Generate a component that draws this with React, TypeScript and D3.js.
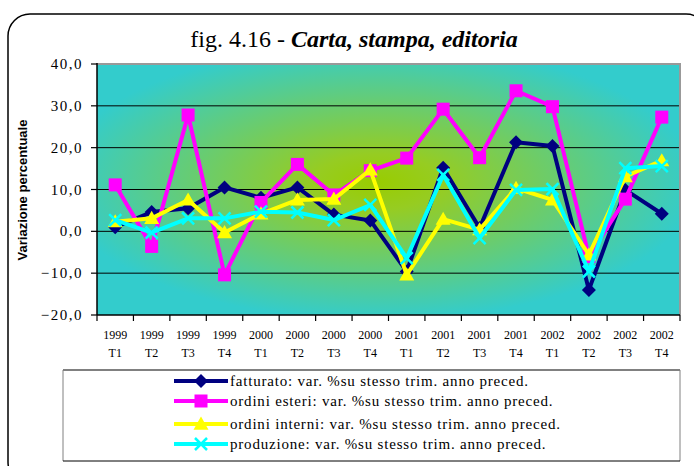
import React from "react";
import * as d3 from "d3";

const categories = ["1999 T1","1999 T2","1999 T3","1999 T4","2000 T1","2000 T2","2000 T3","2000 T4","2001 T1","2001 T2","2001 T3","2001 T4","2002 T1","2002 T2","2002 T3","2002 T4"];
const fatturato = [1.0, 4.6, 5.5, 10.5, 8.0, 10.5, 4.0, 2.6, -9.6, 15.2, 0.8, 21.3, 20.4, -14.0, 9.9, 4.2];
const ordiniEsteri = [11.1, -3.6, 27.8, -10.4, 6.9, 16.0, 8.7, 14.5, 17.5, 29.2, 17.6, 33.6, 29.8, -6.0, 7.7, 27.3];
const ordiniInterni = [2.3, 3.1, 7.5, -0.3, 4.2, 7.5, 7.7, 14.7, -10.4, 2.9, 0.4, 10.3, 7.5, -5.6, 13.1, 16.9];
const produzione = [2.7, -0.3, 3.1, 3.1, 4.7, 4.5, 2.7, 6.3, -6.4, 13.5, -1.6, 9.9, 10.1, -9.6, 15.1, 15.6];
const yTicks = [-20, -10, 0, 10, 20, 30, 40];
const seriesNames = [
  "fatturato: var. %su stesso trim. anno preced.",
  "ordini esteri: var. %su stesso trim. anno preced.",
  "ordini interni: var. %su stesso trim. anno preced.",
  "produzione: var. %su stesso trim. anno preced.",
];

const series = [
  { name: seriesNames[0], values: fatturato, color: "#000080", marker: "diamond" },
  { name: seriesNames[1], values: ordiniEsteri, color: "#FF00FF", marker: "square" },
  { name: seriesNames[2], values: ordiniInterni, color: "#FFFF00", marker: "triangle" },
  { name: seriesNames[3], values: produzione, color: "#00FFFF", marker: "x" },
];

const W = 694, H = 466;
const plot = { left: 97, right: 680, top: 64, bottom: 315 };
const serif = "'Liberation Serif', 'Times New Roman', serif";
const sans = "'Liberation Sans', Arial, sans-serif";

function Marker({ type, x, y, color }: { type: string; x: number; y: number; color: string }) {
  if (type === "diamond") {
    const s = 7;
    return <path d={`M${x},${y - s}L${x + s},${y}L${x},${y + s}L${x - s},${y}Z`} fill={color} />;
  }
  if (type === "square") {
    const s = 6.5;
    return <rect x={x - s} y={y - s} width={2 * s} height={2 * s} fill={color} />;
  }
  if (type === "triangle") {
    const s = 7.5;
    return <path d={`M${x},${y - s}L${x + s},${y + s * 0.75}L${x - s},${y + s * 0.75}Z`} fill={color} />;
  }
  const s = 6;
  return (
    <path d={`M${x - s},${y - s}L${x + s},${y + s}M${x + s},${y - s}L${x - s},${y + s}`} stroke={color} strokeWidth={2.5} fill="none" />
  );
}

export default function App() {
  const x = d3.scaleBand().domain(categories).range([plot.left, plot.right]);
  const y = d3.scaleLinear().domain([-20, 40]).range([plot.bottom, plot.top]);
  const cx = (c: string) => (x(c) as number) + x.bandwidth() / 2;
  const line = d3.line<number>().x((_, i) => cx(categories[i])).y((d) => y(d));

  const legendRows = [381, 401, 424, 444];

  return (
    <svg width={W} height={H} style={{ position: "absolute", left: 0, top: 0, background: "#fff" }}>
      <defs>
        <radialGradient id="bg" cx="0.48" cy="0.47" r="0.55">
          <stop offset="0" stopColor="#99CC00" />
          <stop offset="0.2" stopColor="#96CC22" />
          <stop offset="1" stopColor="#33CCCC" />
        </radialGradient>
      </defs>
      <rect x={8} y={14} width={700} height={470} rx={22} fill="#fff" stroke="#000" strokeWidth={1.5} />
      <text x={354} y={47} textAnchor="middle" style={{ fontFamily: serif, fontSize: 24 }}>
        fig. 4.16 - <tspan style={{ fontStyle: "italic", fontWeight: "bold" }}>Carta, stampa, editoria</tspan>
      </text>
      <rect x={plot.left} y={plot.top} width={plot.right - plot.left} height={plot.bottom - plot.top} fill="url(#bg)" />
      {yTicks.filter((t) => t > -20 && t < 40).map((t) => (
        <line key={t} x1={plot.left} x2={plot.right} y1={y(t)} y2={y(t)} stroke="#000" strokeWidth={1} />
      ))}
      <path d={`M${plot.left},${plot.top}H${plot.right}V${plot.bottom}`} fill="none" stroke="#999" strokeWidth={2} />
      <line x1={plot.left} x2={plot.left} y1={plot.top - 1} y2={plot.bottom} stroke="#000" strokeWidth={1.5} />
      <line x1={plot.left} x2={plot.right} y1={plot.bottom} y2={plot.bottom} stroke="#000" strokeWidth={1.5} />
      {yTicks.map((t) => (
        <g key={t}>
          <line x1={plot.left - 6} x2={plot.left} y1={y(t)} y2={y(t)} stroke="#000" strokeWidth={1.2} />
          <text x={83} y={y(t) + 5} textAnchor="end" style={{ fontFamily: serif, fontSize: 15, letterSpacing: 1.5 }}>
            {d3.format(".1f")(t).replace(".", ",")}
          </text>
        </g>
      ))}
      {categories.map((c) => (
        <g key={c}>
          <line x1={x(c) as number} x2={x(c) as number} y1={plot.bottom} y2={plot.bottom + 6} stroke="#000" strokeWidth={1.2} />
          <text x={cx(c)} y={339} textAnchor="middle" style={{ fontFamily: serif, fontSize: 12 }}>{c.split(" ")[0]}</text>
          <text x={cx(c)} y={357} textAnchor="middle" style={{ fontFamily: serif, fontSize: 12 }}>{c.split(" ")[1]}</text>
        </g>
      ))}
      <line x1={plot.right} x2={plot.right} y1={plot.bottom} y2={plot.bottom + 6} stroke="#000" strokeWidth={1.2} />
      <text transform={`translate(27,190) rotate(-90)`} textAnchor="middle" style={{ fontFamily: sans, fontWeight: "bold", fontSize: 13 }}>
        Variazione percentuale
      </text>
      {series.map((s) => (
        <g key={s.name}>
          <path d={line(s.values) || ""} fill="none" stroke={s.color} strokeWidth={4} strokeLinejoin="round" />
          {s.values.map((v, i) => (
            <Marker key={i} type={s.marker} x={cx(categories[i])} y={y(v)} color={s.color} />
          ))}
        </g>
      ))}
      <rect x={63} y={370} width={617} height={91} fill="#fff" stroke="none" />
      <line x1={63} x2={680} y1={370} y2={370} stroke="#808080" strokeWidth={2} />
      <line x1={63} x2={63} y1={370} y2={461} stroke="#808080" strokeWidth={1} />
      <line x1={680} x2={680} y1={370} y2={461} stroke="#808080" strokeWidth={1} />
      <line x1={63} x2={680} y1={461} y2={461} stroke="#000" strokeWidth={1} />
      {series.map((s, i) => (
        <g key={s.name}>
          <line x1={174} x2={228} y1={legendRows[i]} y2={legendRows[i]} stroke={s.color} strokeWidth={4} />
          <Marker type={s.marker} x={201} y={legendRows[i]} color={s.color} />
          <text x={230} y={legendRows[i] + 5} style={{ fontFamily: serif, fontSize: 15, letterSpacing: 0.8 }}>{s.name}</text>
        </g>
      ))}
    </svg>
  );
}
